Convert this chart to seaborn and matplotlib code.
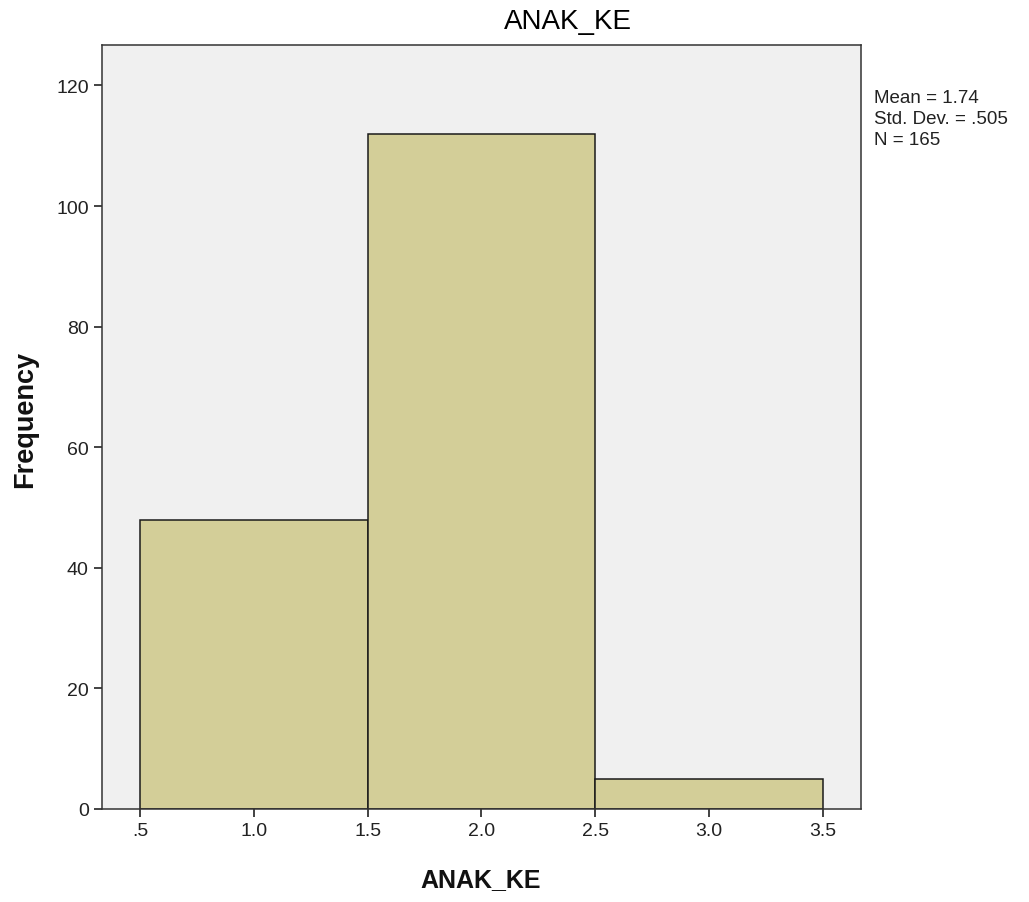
import numpy as np
import pandas as pd
import matplotlib
matplotlib.use("Agg")
import matplotlib.pyplot as plt
import seaborn as sns

# data
child_order = [1, 2, 3]
frequency = [48, 112, 5]
bin_edges = [0.5, 1.5, 2.5, 3.5]
x_ticks = [0.5, 1.0, 1.5, 2.0, 2.5, 3.0, 3.5]
x_tick_labels = [".5", "1.0", "1.5", "2.0", "2.5", "3.0", "3.5"]
y_ticks = [0, 20, 40, 60, 80, 100, 120]
stats_lines = ["Mean = 1.74", "Std. Dev. = .505", "N = 165"]

sns.set_theme(style="white")
plt.rcParams["font.family"] = ["Liberation Sans", "DejaVu Sans"]

df = pd.DataFrame({"ANAK_KE": child_order, "count": frequency})

fig = plt.figure(figsize=(10.29, 9.03), dpi=100)
ax = fig.add_axes([0.0991, 0.103, 0.7376, 0.846])
ax.set_facecolor("#F0F0F0")

sns.histplot(data=df, x="ANAK_KE", weights="count", bins=bin_edges,
             color="#D3CE98", alpha=1, edgecolor="#1a1a1a", linewidth=1.1, ax=ax)

ax.set_xlim(0.333, 3.667)
ax.set_ylim(0, 126.7)
ax.set_xticks(x_ticks)
ax.set_xticklabels(x_tick_labels)
ax.set_yticks(y_ticks)
ax.tick_params(axis="both", direction="out", length=6, width=1.2, color="#222222",
               labelsize=14, labelcolor="#222222", bottom=True, left=True)
for s in ax.spines.values():
    s.set_color("#333333")
    s.set_linewidth(1.1)

ax.set_xlabel("")
ax.set_ylabel("")
fig.text(0.467, 0.025, "ANAK_KE", fontsize=18, fontweight="bold", ha="center", va="center",
         color="#111111")
fig.text(0.024, 0.535, "Frequency", fontsize=19.5, fontweight="bold", ha="center", va="center",
         rotation=90, color="#111111")

fig.text(0.552, 0.976, "ANAK_KE", fontsize=20, ha="center", va="center", color="#000000")
fig.text(0.849, 0.900, "\n".join(stats_lines), fontsize=13.5, ha="left", va="top",
         linespacing=1.28, color="#222222")

fig.savefig("out.png", dpi=100)
